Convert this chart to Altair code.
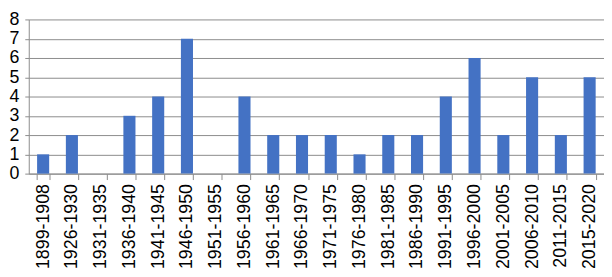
import altair as alt
import pandas as pd

periods = ["1899-1908", "1926-1930", "1931-1935", "1936-1940", "1941-1945",
           "1946-1950", "1951-1955", "1956-1960", "1961-1965", "1966-1970",
           "1971-1975", "1976-1980", "1981-1985", "1986-1990", "1991-1995",
           "1996-2000", "2001-2005", "2006-2010", "2011-2015", "2015-2020"]
counts = [1, 2, 0, 3, 4, 7, 0, 4, 2, 2, 2, 1, 2, 2, 4, 6, 2, 5, 2, 5]

df = pd.DataFrame({"period": periods, "count": counts})

font = "Liberation Sans"

chart = alt.Chart(df).mark_bar(color="#4472C4").encode(
    x=alt.X("period:N", sort=periods, title=None,
            scale=alt.Scale(paddingInner=0.58, paddingOuter=0.29),
            axis=alt.Axis(labelAngle=-90, labelFont=font, labelFontSize=18,
                          labelColor="#000000", labelPadding=4,
                          tickBand="extent", tickSize=6, tickColor="#8c8c8c",
                          domainColor="#8c8c8c", grid=False, labelAlign="right",
                          labelBaseline="middle")),
    y=alt.Y("count:Q", title=None,
            scale=alt.Scale(domain=[0, 8], nice=False),
            axis=alt.Axis(values=[0, 1, 2, 3, 4, 5, 6, 7, 8], labelFont=font,
                          labelFontSize=18, labelColor="#000000", labelPadding=6,
                          labelOverlap=False,
                          tickSize=4, tickColor="#8c8c8c", domainColor="#8c8c8c",
                          gridColor="#8c8c8c", gridWidth=1)),
).properties(
    width=582, height=156,
    autosize=alt.AutoSizeParams(type="none"),
    padding={"left": 21, "top": 10, "right": 0, "bottom": 100},
).configure_view(stroke=None)

chart.save("out.html", embed_options={"renderer": "svg", "actions": False})
